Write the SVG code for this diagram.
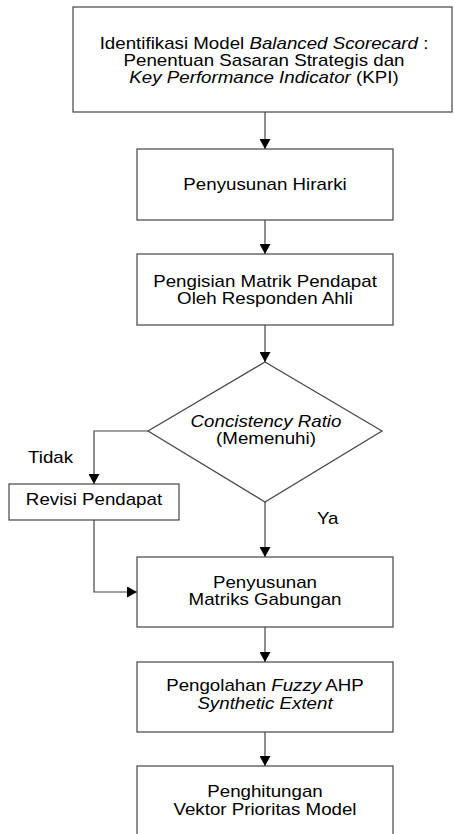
<svg xmlns="http://www.w3.org/2000/svg" width="454" height="834" viewBox="0 0 454 834">
<style>
.box{fill:#fff;stroke:#444;stroke-width:1.2}
.ln{fill:none;stroke:#444;stroke-width:1.2}
.t{font-family:"Liberation Sans",Arial,sans-serif;font-size:16px;fill:#000;text-anchor:middle}
.l{font-family:"Liberation Sans",Arial,sans-serif;font-size:16px;fill:#000}
.i{font-style:italic}
</style>
<defs>
<marker id="ah" viewBox="0 0 10 11" markerWidth="10" markerHeight="11" refX="10" refY="5.5" orient="auto" markerUnits="userSpaceOnUse">
<path d="M0,0 L10,5.5 L0,11 z" fill="#000"/>
</marker>
</defs>
<rect width="454" height="834" fill="#fff"/>
<g id="connectors">
<path class="ln" d="M265,112 V149" marker-end="url(#ah)"/>
<path class="ln" d="M265,220 V254" marker-end="url(#ah)"/>
<path class="ln" d="M265,325 V362" marker-end="url(#ah)"/>
<path class="ln" d="M148,431 H94 V484" marker-end="url(#ah)"/>
<path class="ln" d="M265,502 V557" marker-end="url(#ah)"/>
<path class="ln" d="M94,520 V592 H137" marker-end="url(#ah)"/>
<path class="ln" d="M265,627 V662" marker-end="url(#ah)"/>
<path class="ln" d="M265,732 V766" marker-end="url(#ah)"/>
<g transform="translate(28,0) scale(1.17,1)"><text class="l" x="0" y="463">Tidak</text></g>
<g transform="translate(317,0) scale(1.17,1)"><text class="l" x="0" y="524">Ya</text></g>
</g>
<g id="n1">
<rect class="box" x="73" y="7" width="379" height="105"/>
<g transform="translate(264,0) scale(1.17,1)">
<text class="t" x="0" y="49">Identifikasi Model <tspan class="i">Balanced Scorecard</tspan> :</text>
<text class="t" x="0" y="66">Penentuan Sasaran Strategis dan</text>
<text class="t" x="0" y="83"><tspan class="i">Key Performance Indicator</tspan> (KPI)</text>
</g>
</g>
<g id="n2">
<rect class="box" x="137" y="149" width="256" height="71"/>
<g transform="translate(265,0) scale(1.17,1)"><text class="t" x="0" y="190">Penyusunan Hirarki</text></g>
</g>
<g id="n3">
<rect class="box" x="137" y="254" width="256" height="71"/>
<g transform="translate(265,0) scale(1.17,1)">
<text class="t" x="0" y="287">Pengisian Matrik Pendapat</text>
<text class="t" x="0" y="304">Oleh Responden Ahli</text>
</g>
</g>
<g id="n4">
<path class="box" d="M265,362 L382,431 L265,502 L148,431 Z"/>
<g transform="translate(266,0) scale(1.17,1)">
<text class="t i" x="0" y="427">Concistency Ratio</text>
<text class="t" x="0" y="444">(Memenuhi)</text>
</g>
</g>
<g id="n5">
<rect class="box" x="9" y="484" width="170" height="36"/>
<g transform="translate(94,0) scale(1.17,1)"><text class="t" x="0" y="505">Revisi Pendapat</text></g>
</g>
<g id="n6">
<rect class="box" x="137" y="557" width="256" height="70"/>
<g transform="translate(265,0) scale(1.17,1)">
<text class="t" x="0" y="588">Penyusunan</text>
<text class="t" x="0" y="605">Matriks Gabungan</text>
</g>
</g>
<g id="n7">
<rect class="box" x="137" y="662" width="256" height="70"/>
<g transform="translate(265,0) scale(1.17,1)">
<text class="t" x="0" y="691">Pengolahan <tspan class="i">Fuzzy</tspan> AHP</text>
<text class="t i" x="0" y="709">Synthetic Extent</text>
</g>
</g>
<g id="n8">
<rect class="box" x="137" y="766" width="256" height="80"/>
<g transform="translate(265,0) scale(1.17,1)">
<text class="t" x="0" y="797">Penghitungan</text>
<text class="t" x="0" y="815">Vektor Prioritas Model</text>
</g>
</g>
</svg>
